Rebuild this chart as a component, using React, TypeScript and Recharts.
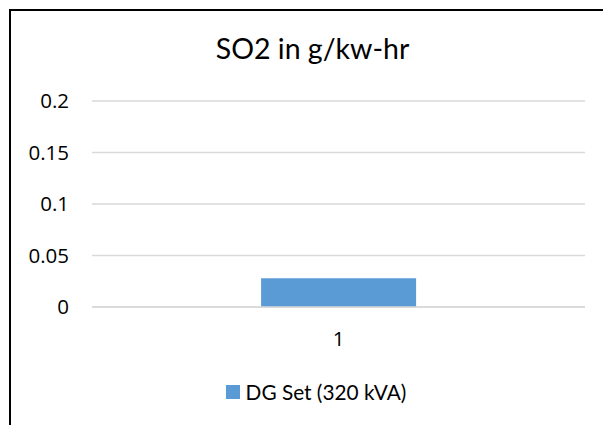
import React from 'react';
import { BarChart, Bar, XAxis, YAxis, CartesianGrid, Legend } from 'recharts';

const categories = ['1'];
const seriesName = 'DG Set (320 kVA)';
const so2Values = [0.028];
const yTicks = [0, 0.05, 0.1, 0.15, 0.2];
const chartTitle = 'SO2 in g/kw-hr';

const data = categories.map((c, i) => ({ category: c, value: so2Values[i] }));

const FONT = 'Lato, "Open Sans", sans-serif';
const TICK_FONT = '"Open Sans", Lato, sans-serif';
const COLOR = '#5b9bd5';

const renderLegend = (props: any) => {
  const items = props.payload || [];
  return (
    <div style={{ display: 'flex', justifyContent: 'center', fontFamily: FONT }}>
      {items.map((it: any, i: number) => (
        <div key={i} style={{ display: 'flex', alignItems: 'center' }}>
          <div style={{ width: 14, height: 14, background: it.color, marginRight: 6 }} />
          <span style={{ fontSize: 20.8, lineHeight: '24px', color: '#000' }}>{it.value}</span>
        </div>
      ))}
    </div>
  );
};

export default function App() {
  return (
    <div style={{ position: 'absolute', left: 0, top: 0, width: 603, height: 425, background: '#fff', overflow: 'hidden', fontFamily: FONT }}>
      <div style={{ position: 'absolute', left: 9, top: 9, width: 700, height: 500, borderLeft: '2px solid #000', borderTop: '2px solid #000' }} />
      <div style={{ position: 'absolute', left: 0, width: 625, top: 30, textAlign: 'center', fontSize: 28.5, lineHeight: '36px', color: '#000' }}>{chartTitle}</div>
      <div style={{ position: 'absolute', left: 0, top: 0 }}>
        <BarChart width={603} height={425} data={data} margin={{ top: 101, right: 18, left: 0, bottom: 0 }} barCategoryGap="34.3%">
          <CartesianGrid vertical={false} stroke="#d9d9d9" strokeWidth={1.5} />
          <XAxis dataKey="category" axisLine={{ stroke: '#d9d9d9', strokeWidth: 1.5 }} tickLine={false} tickSize={0} tickMargin={24} height={118} tick={{ fill: '#000', fontSize: 20.5, fontFamily: TICK_FONT }} />
          <YAxis domain={[0, 0.2]} ticks={yTicks} axisLine={false} tickLine={false} tickSize={0} tickMargin={23} width={92} tick={{ fill: '#000', fontSize: 20.5, fontFamily: TICK_FONT }} />
          <Legend layout="vertical" verticalAlign="middle" align="center" content={renderLegend} wrapperStyle={{ position: 'absolute', left: 0, top: 380, width: 632, height: 26 }} />
          <Bar dataKey="value" name={seriesName} fill={COLOR} isAnimationActive={false} />
        </BarChart>
      </div>
    </div>
  );
}
